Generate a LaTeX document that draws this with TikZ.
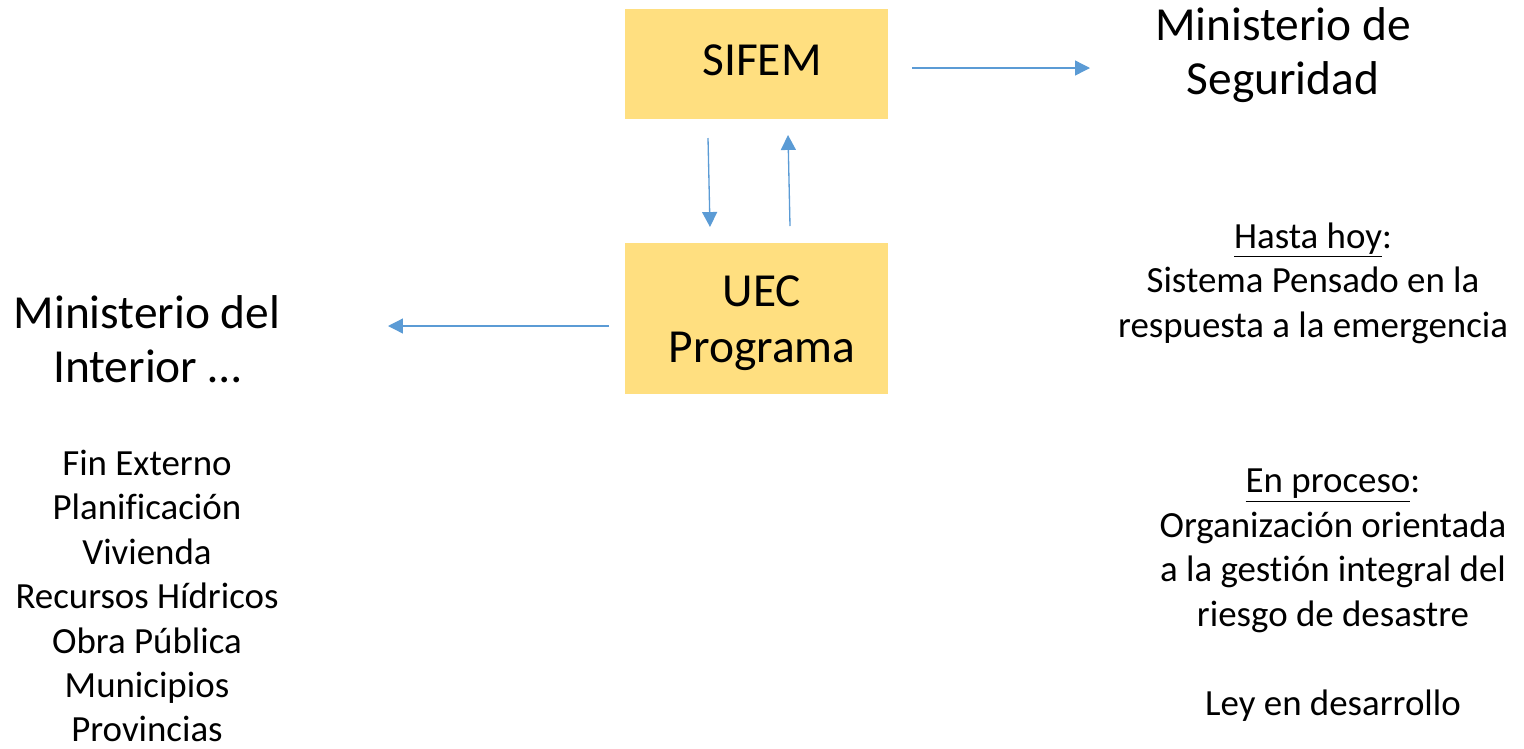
\documentclass[tikz,border=0pt]{standalone}
\usepackage{fontspec}
\setmainfont{Carlito}[Ligatures=NoCommon]
\usepackage{tikz}
\usetikzlibrary{arrows.meta,positioning}
\definecolor{boxgold}{HTML}{FFDF80}
\definecolor{linkblue}{HTML}{5B9BD5}

\begin{document}
\begin{tikzpicture}[x=0.02cm, y=-0.02cm]
\useasboundingbox (0,0) rectangle (1524,748);
\tikzstyle{box} = [fill=boxgold, minimum width=263*0.02cm, inner sep=0cm, align=center, font=\fontsize{27}{32}\selectfont]
\tikzstyle{title} = [align=center, inner sep=0cm, font=\fontsize{27}{31}\selectfont]
\tikzstyle{small} = [align=center, inner sep=0cm, font=\fontsize{21}{25.3}\selectfont]
\tikzstyle{link} = [linkblue, line width=0.75pt, -{Triangle[length=8.5pt, width=8.5pt]}]
% boxes
\node[box, minimum height=110*0.02cm] (sifem) at (756.5,64) {};
\node[box, minimum height=151*0.02cm] (uec) at (756.5,318.5) {};
\node[box, fill=none, minimum height=0cm] (sifemtxt) at (762,60) {SIFEM};
\node[box, fill=none, minimum height=0cm] (uectxt) at (762,323) {UEC\\Programa};
% texts
\node[title] (seg) at (1283,55) {Ministerio de\\Seguridad};
\node[title] (int) at (147,339) {Ministerio del\\Interior \dots};
\node[small] (areas) at (147,596) {Fin Externo\\Planificaci\'on\\Vivienda\\Recursos H\'idricos\\Obra P\'ublica\\Municipios\\Provincias};
\node[small] (hoy) at (1313,283) {\underline{Hasta hoy}:\\Sistema Pensado en la\\respuesta a la emergencia};
\node[small] (proc) at (1333,595) {\underline{En proceso}:\\Organizaci\'on orientada\\a la gesti\'on integral del\\riesgo de desastre\\[25.3pt]Ley en desarrollo};
% free ends
\coordinate (a1) at (912,68);
\coordinate (a2) at (1090,68);
\coordinate (d1) at (708,138);
\coordinate (d2) at (710,227);
\coordinate (u1) at (790,226);
\coordinate (u2) at (788,135);
\coordinate (l1) at (609,326);
\coordinate (l2) at (388,326);
% connectors
\draw[link] (a1) -- (a2);
\draw[link] (d1) -- (d2);
\draw[link] (u1) -- (u2);
\draw[link] (l1) -- (l2);
\end{tikzpicture}
\end{document}
